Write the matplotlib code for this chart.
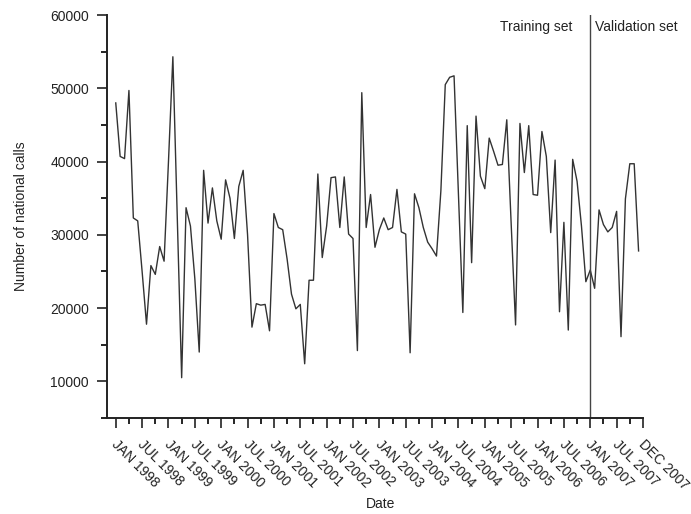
import numpy as np
import matplotlib
matplotlib.use('Agg')
import matplotlib.pyplot as plt
from matplotlib.ticker import MultipleLocator
from matplotlib.transforms import ScaledTranslation

plt.rcParams['font.family'] = ['Liberation Sans', 'DejaVu Sans']

# monthly national calls, JAN 1998 .. DEC 2007
calls = [48000, 40700, 40400, 49700, 32300, 31900, 25000, 17800, 25800, 24600, 28400, 26400,
         40000, 54300, 32400, 10500, 33700, 31200, 24000, 14000, 38800, 31600, 36400, 31900,
         29400, 37500, 35000, 29500, 36600, 38800, 30000, 17400, 20600, 20400, 20500, 16900,
         32900, 31000, 30700, 26700, 21900, 19900, 20500, 12400, 23800, 23800, 38300, 26900,
         31200, 37800, 37900, 31000, 37900, 30100, 29500, 14200, 49400, 31000, 35500, 28300,
         30700, 32300, 30700, 31000, 36200, 30400, 30100, 13900, 35600, 33700, 31000, 29000,
         28100, 27100, 36000, 50500, 51500, 51700, 35500, 19400, 44900, 26200, 46200, 38000,
         36300, 43200, 41400, 39500, 39600, 45700, 31500, 17700, 45200, 38500, 44900, 35500,
         35400, 44100, 40700, 30300, 40200, 19500, 31700, 17000, 40300, 37300, 31200, 23600,
         25200, 22700, 33400, 31400, 30400, 31000, 33200, 16100, 34900, 39700, 39700, 27800]

tick_labels = ['JAN 1998', 'JUL 1998', 'JAN 1999', 'JUL 1999', 'JAN 2000', 'JUL 2000',
               'JAN 2001', 'JUL 2001', 'JAN 2002', 'JUL 2002', 'JAN 2003', 'JUL 2003',
               'JAN 2004', 'JUL 2004', 'JAN 2005', 'JUL 2005', 'JAN 2006', 'JUL 2006',
               'JAN 2007', 'JUL 2007', 'DEC 2007']

split_month = 108  # start of validation set (JAN 2007)

months = np.arange(len(calls))

fig = plt.figure(figsize=(6.91, 5.14), dpi=100)
ax = fig.add_axes([0.1548, 0.1868, 0.7757, 0.7840])

ax.plot(months, calls, color='#333333', lw=1.0)
ax.axvline(split_month, color='#444444', lw=1.0)

ax.set_xlim(-2, 120)
ax.set_ylim(5000, 60000)

ax.set_xticks(np.arange(0, 121, 6))
ax.set_xticklabels(tick_labels, rotation=-45, ha='left', va='top', rotation_mode='anchor')
ax.xaxis.set_minor_locator(MultipleLocator(3))
ax.set_yticks(np.arange(10000, 60001, 10000))
ax.yaxis.set_minor_locator(MultipleLocator(5000))

ax.tick_params(which='major', length=7, width=1.2, labelsize=10, colors='#222222')
ax.tick_params(which='minor', length=4, width=1.2)
ax.tick_params(axis='y', pad=6)
ax.tick_params(axis='x', pad=7)

# nudge the slanted date labels a little towards their tick
shift = ScaledTranslation(0.03, 0, fig.dpi_scale_trans)
for lab in ax.get_xticklabels():
    lab.set_transform(lab.get_transform() + shift)

for s in ['top', 'right']:
    ax.spines[s].set_visible(False)
for s in ['left', 'bottom']:
    ax.spines[s].set_linewidth(1.4)
    ax.spines[s].set_color('#222222')

ax.set_xlabel('Date', fontsize=10, color='#222222')
ax.xaxis.set_label_coords(0.511, -0.196)
ax.set_ylabel('Number of national calls', fontsize=10, color='#222222')
ax.yaxis.set_label_coords(-0.147, 0.5)

ax.text(split_month - 4, 58400, 'Training set', ha='right', va='center', fontsize=10, color='#222222')
ax.text(split_month + 1, 58400, 'Validation set', ha='left', va='center', fontsize=10, color='#222222')

plt.savefig('out.png', dpi=100)
